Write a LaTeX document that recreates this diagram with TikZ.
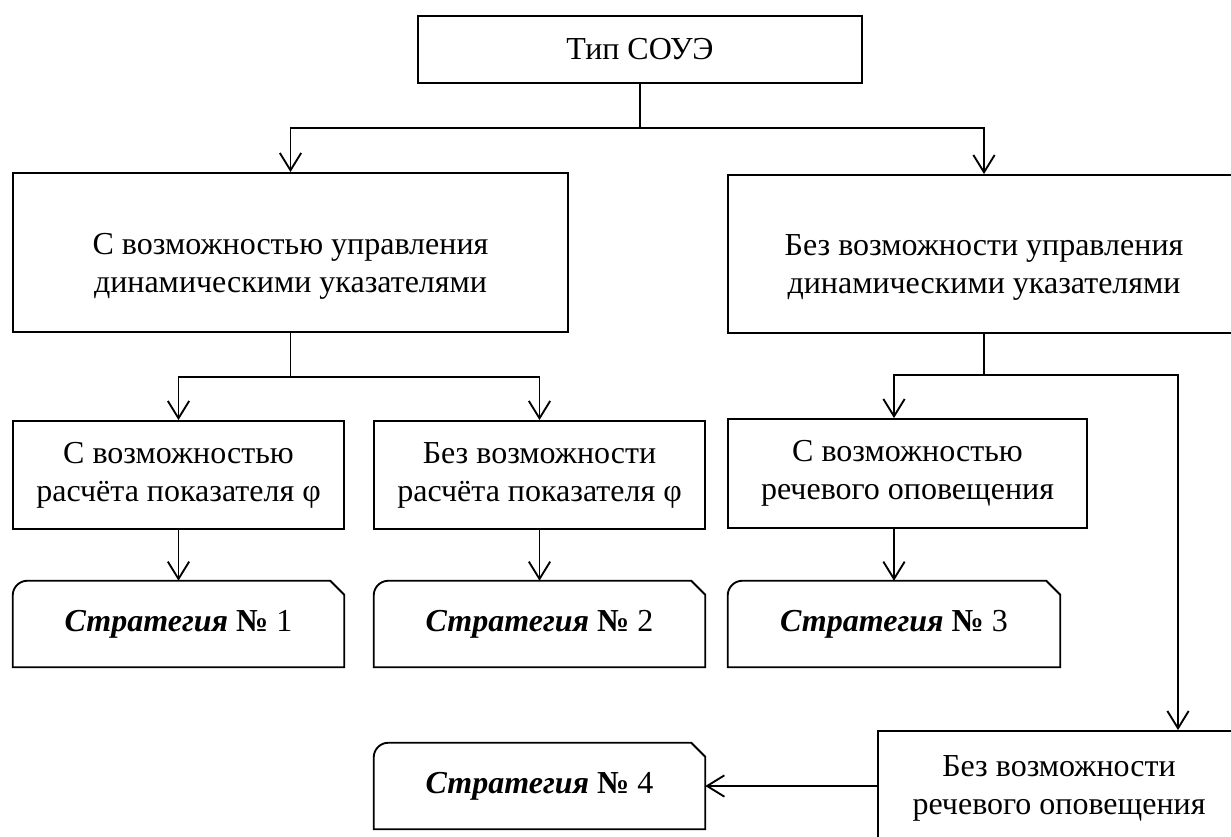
\documentclass[tikz,border=0pt]{standalone}
\usepackage{fontspec}
\setmainfont{Liberation Serif}
\usetikzlibrary{arrows.meta}
\newcommand{\stratpath}[1]{%
  \draw[boxline] (#1.south west) -- ([yshift=-11pt]#1.north west)
    arc[start angle=180, end angle=90, radius=11pt]
    -- ([xshift=-10.5pt]#1.north east) -- ([yshift=-10.5pt]#1.north east)
    -- (#1.south east) -- cycle;}
\newcommand{\strat}[1]{{\bfseries\itshape Стратегия} {\bfseries №} #1}
\begin{document}
\begin{tikzpicture}[x=0.75pt,y=-0.75pt,
  every node/.style={font=\fontsize{24}{28.5}\selectfont, align=center, inner sep=0pt},
  boxline/.style={line width=1.4pt, line join=miter},
  box/.style={draw, boxline},
  stratbox/.style={},
  conn/.style={line width=1.4pt},
  arr/.style={conn, -{Straight Barb[length=13pt, width=16pt, line width=1.4pt]}}]
\useasboundingbox (0,0) rectangle (1231,836);
% boxes
\node[box, minimum width=333pt, minimum height=50.25pt] (top) at (640,49.5) {Тип СОУЭ};
\node[box, minimum width=416.25pt, minimum height=119.25pt] (L) at (290.5,252.5) {};
\node (Lt) at (290.5,266) {С возможностью управления\\динамическими указателями};
\node[box, minimum width=384pt, minimum height=118.5pt] (R) at (984,254) {};
\node (Rt) at (984,267) {Без возможности управления\\динамическими указателями};
\node[box, minimum width=248.25pt, minimum height=81pt] (P1) at (178.5,475) {С возможностью\\расчёта показателя φ};
\node[box, minimum width=248.25pt, minimum height=81pt] (P2) at (539.5,475) {Без возможности\\расчёта показателя φ};
\node[box, minimum width=269.25pt, minimum height=81.75pt] (P3) at (907.5,473.5) {С возможностью\\речевого оповещения};
\node[stratbox, minimum width=248.25pt, minimum height=64.5pt] (S1) at (178.5,624) {\strat{1}};
\node[stratbox, minimum width=248.25pt, minimum height=64.5pt] (S2) at (539.5,624) {\strat{2}};
\node[stratbox, minimum width=249pt, minimum height=64.5pt] (S3) at (894,624) {\strat{3}};
\node[stratbox, minimum width=248.25pt, minimum height=64.5pt] (S4) at (539.5,786) {\strat{4}};
\node[box, minimum width=271.5pt, minimum height=89.25pt] (B) at (1059,790.5) {};
\node (Bt) at (1059,788) {Без возможности\\речевого оповещения};
\stratpath{S1}
\stratpath{S2}
\stratpath{S3}
\stratpath{S4}
% junctions
\coordinate (j1) at (640,128);
\coordinate (j2) at (290.5,377);
\coordinate (j3) at (984,375);
\coordinate (k) at (1178,375);
% connectors
\draw[arr] (top.south) -- (j1) -| (L.north);
\draw[arr] (j1) -| (R.north);
\draw[arr] (L.south) -- (j2) -| (P1.north);
\draw[arr] (j2) -| (P2.north);
\draw[arr] (R.south) -- (j3) -| (S3.north |- P3.north);
\draw[arr] (j3) -- (k) -- (k |- B.north);
\draw[arr] (P1.south) -- (S1.north);
\draw[arr] (P2.south) -- (S2.north);
\draw[arr] (S3.north |- P3.south) -- (S3.north);
\draw[arr] (B.west |- S4.east) -- (S4.east);
\end{tikzpicture}
\end{document}
